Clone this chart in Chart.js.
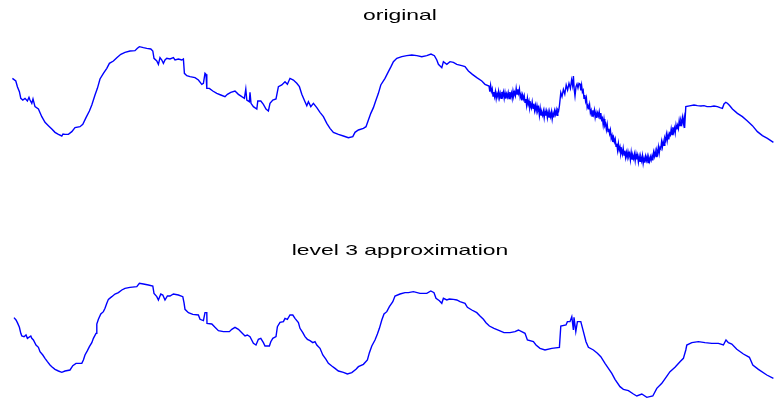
<!DOCTYPE html>
<html>
<head>
<meta charset="utf-8">
<script src="https://cdn.jsdelivr.net/npm/chart.js@4.4.1/dist/chart.umd.min.js"></script>
<style>
  html, body { margin: 0; padding: 0; background: #fff; overflow: hidden; }
  body { width: 774px; height: 399px; position: relative; }
  canvas { position: absolute; left: 0; }
  #origChart { top: 0; }
  #approxChart { top: 200px; }
</style>
</head>
<body>
<canvas id="origChart" width="774" height="200"></canvas>
<canvas id="approxChart" width="774" height="216"></canvas>
<script>
// signal: sample index + value
const origSample = [
  2, 19, 27, 37, 44, 54, 65, 77, 85, 90, 99, 105, 115, 132, 149, 165, 182, 199, 215, 232,
  249, 255, 265, 282, 299, 315, 340, 354, 370, 387, 399, 415, 427, 440, 457, 474, 487, 507, 524, 544,
  565, 590, 615, 627, 637, 657, 674, 694, 704, 710, 724, 732, 740, 749, 757, 765, 774, 790, 807, 815,
  832, 849, 857, 862, 874, 890, 915, 932, 949, 957, 965, 970, 974, 987, 1004, 1024, 1044, 1065, 1077, 1094,
  1115, 1132, 1149, 1162, 1169, 1174, 1187, 1190, 1195, 1207, 1224, 1229, 1244, 1257, 1270, 1282, 1290, 1304, 1320, 1332,
  1349, 1365, 1377, 1390, 1407, 1424, 1437, 1449, 1465, 1474, 1482, 1494, 1507, 1524, 1540, 1557, 1574, 1590, 1607, 1632,
  1657, 1682, 1704, 1715, 1732, 1757, 1770, 1782, 1794, 1807, 1817, 1832, 1844, 1865, 1882, 1895, 1907, 1924, 1949, 1974,
  1999, 2024, 2049, 2074, 2095, 2112, 2124, 2132, 2149, 2157, 2174, 2190, 2207, 2224, 2249, 2265, 2282, 2302, 2324, 2349,
  2365,
  // noisy stretch
  2385, 2389, 2393, 2397, 2401, 2405, 2409, 2413, 2417, 2421, 2425, 2429, 2433, 2437, 2441, 2445, 2449, 2453, 2457, 2461,
  2465, 2469, 2473, 2477, 2481, 2485, 2489, 2493, 2497, 2501, 2505, 2509, 2513, 2517, 2521, 2525, 2529, 2533, 2537, 2541,
  2545, 2549, 2553, 2557, 2561, 2565, 2569, 2573, 2577, 2581, 2585, 2589, 2593, 2597, 2601, 2605, 2609, 2613, 2617, 2621,
  2625, 2629, 2633, 2637, 2641, 2645, 2649, 2653, 2657, 2661, 2665, 2669, 2673, 2677, 2681, 2685, 2689, 2693, 2697, 2701,
  2705, 2709, 2713, 2717, 2721, 2725, 2729, 2733, 2737,
  2744, 2750, 2757, 2764, 2771, 2778, 2785, 2792, 2798, 2803, 2807, 2811, 2815, 2820, 2825, 2830, 2835,
  // noisy trough
  2840, 2844, 2848, 2852, 2856, 2860, 2864, 2868, 2872, 2876, 2880, 2884, 2888, 2892, 2896, 2900, 2904, 2908, 2912, 2916,
  2920, 2924, 2928, 2932, 2936, 2940, 2944, 2948, 2952, 2956, 2960, 2964, 2968, 2972, 2976, 2980, 2984, 2988, 2992, 2996,
  3000, 3004, 3008, 3012, 3016, 3020, 3024, 3028, 3032, 3036, 3040, 3044, 3048, 3052, 3056, 3060, 3064, 3068, 3072, 3076,
  3080, 3084, 3088, 3092, 3096, 3100, 3104, 3108, 3112, 3116, 3120, 3124, 3128, 3132, 3136, 3140, 3144, 3148, 3152, 3156,
  3160, 3164, 3168, 3172, 3176, 3180, 3184, 3188, 3192, 3196, 3200, 3204, 3208, 3212, 3216, 3220, 3224, 3228, 3232, 3236,
  3240, 3244, 3248, 3252, 3256, 3260, 3264, 3268, 3272, 3276, 3280, 3284, 3288, 3292, 3296, 3300, 3304, 3308, 3312, 3316,
  3320, 3324, 3328, 3332, 3336, 3340, 3344, 3348, 3352, 3356, 3360, 3363, 3369,
  3394, 3410, 3427, 3445, 3460, 3475, 3494, 3510, 3527, 3540, 3552, 3560, 3569, 3575, 3582, 3590, 3602, 3627, 3652, 3677,
  3702, 3727, 3752, 3777, 3807
];
const origValue = [
  305, 297, 280, 265, 245, 240, 245, 237, 248, 240, 230, 243, 220, 213, 190, 173, 163, 153, 143, 137,
  132, 138, 137, 137, 145, 157, 160, 167, 187, 207, 225, 255, 275, 303, 320, 335, 350, 357, 367, 377,
  383, 387, 388, 395, 400, 397, 395, 393, 387, 365, 357, 347, 367, 360, 350, 360, 365, 363, 367, 360,
  363, 360, 363, 320, 313, 310, 307, 300, 287, 290, 320, 317, 275, 275, 267, 260, 255, 250, 257, 263,
  267, 257, 250, 245, 273, 240, 235, 263, 230, 220, 213, 237, 237, 227, 213, 207, 230, 240, 243, 280,
  285, 295, 287, 305, 300, 290, 280, 257, 235, 223, 235, 220, 230, 217, 203, 190, 170, 155, 143, 137,
  132, 127, 130, 143, 150, 155, 160, 180, 200, 217, 235, 260, 285, 305, 325, 340, 355, 365, 370, 373,
  375, 373, 370, 373, 378, 373, 360, 347, 337, 355, 347, 355, 353, 347, 343, 340, 327, 317, 307, 297,
  287,
  282, 265, 284, 266, 274, 252, 264, 250, 265, 244, 259, 250, 266, 247, 260, 245, 264, 252, 264, 245,
  262, 244, 258, 249, 262, 244, 264, 250, 261, 245, 267, 253, 263, 253, 275, 258, 272, 260, 273, 248,
  257, 239, 255, 243, 253, 233, 243, 224, 245, 226, 237, 217, 228, 217, 234, 215, 229, 209, 224, 207,
  223, 208, 216, 194, 215, 195, 203, 194, 207, 187, 207, 193, 206, 187, 204, 189, 201, 190, 205, 183,
  200, 188, 208, 197, 210, 194, 211, 207, 222,
  262, 250, 272, 258, 285, 270, 290, 275, 300, 283, 312, 272, 252, 280, 288, 276, 290,
  288, 269, 285, 264, 269, 245, 255, 236, 246, 217, 224, 212, 226, 201, 209, 192, 209, 197, 210, 188,
  202, 186, 201, 192, 205, 184, 201, 181, 186, 165, 183, 163, 169, 151, 167, 145, 154, 139, 150, 125,
  134, 114, 127, 114, 123, 101, 109, 89, 109, 89, 99, 79, 90, 78, 95, 75, 88, 68, 83, 68,
  85, 71, 79, 60, 83, 63, 73, 64, 78, 58, 78, 62, 74, 54, 71, 56, 68, 57, 73, 50,
  65, 52, 71, 59, 71, 52, 66, 56, 70, 60, 72, 59, 83, 71, 86, 70, 88, 79, 99, 80,
  98, 94, 115, 99, 116, 104, 126, 119, 137, 118, 136, 122, 140, 135, 153, 136, 158, 144, 156, 141,
  165, 152, 164, 154, 178, 163, 179, 170, 188, 169, 185, 156, 220,
  223, 225, 223, 222, 223, 220, 220, 222, 220, 217, 215, 228, 233, 231, 227, 222, 213, 200, 190, 177,
  163, 145, 133, 125, 113
];

// level 3 approximation, same units
const approxSample = [
  10, 20, 27, 37, 44, 49, 60, 70, 77, 94, 99, 107, 120, 132, 140, 154, 165, 177, 190, 199,
  215, 232, 249, 265, 290, 304, 320, 349, 357, 365, 377, 387, 399, 407, 420, 424, 432, 444, 457, 465,
  474, 482, 499, 515, 532, 549, 565, 590, 624, 637, 657, 682, 704, 710, 724, 732, 744, 754, 765, 777,
  790, 807, 832, 854, 860, 865, 882, 904, 932, 940, 957, 965, 974, 975, 999, 1015, 1032, 1057, 1087, 1099,
  1115, 1132, 1149, 1165, 1177, 1190, 1207, 1220, 1232, 1244, 1257, 1265, 1287, 1294, 1304, 1320, 1327, 1340, 1357, 1365,
  1377, 1390, 1404, 1415, 1432, 1440, 1454, 1465, 1477, 1490, 1504, 1515, 1524, 1540, 1554, 1570, 1582, 1599, 1615, 1632,
  1657, 1677, 1699, 1720, 1732, 1757, 1777, 1787, 1799, 1815, 1827, 1837, 1849, 1860, 1874, 1887, 1904, 1915, 1940, 1965,
  1982, 2007, 2040, 2074, 2094, 2110, 2120, 2137, 2149, 2157, 2174, 2187, 2207, 2224, 2240, 2265, 2277, 2299, 2324, 2340,
  2357, 2370, 2387, 2410, 2437, 2460, 2490, 2515, 2532, 2565, 2577, 2607, 2620, 2640, 2665, 2699, 2737, 2744, 2770, 2777,
  2790, 2799, 2807, 2810, 2819, 2827, 2844, 2857, 2870, 2882, 2907, 2927, 2944, 2965, 2982, 2999, 3015, 3040, 3057, 3082,
  3107, 3124, 3149, 3174, 3204, 3224, 3249, 3270, 3290, 3315, 3340, 3357, 3369, 3374, 3399, 3432, 3465, 3499, 3532, 3557,
  3570, 3582, 3599, 3624, 3657, 3687, 3704, 3732, 3774, 3807
];
const approxValue = [
  295, 288, 280, 266, 248, 240, 238, 243, 233, 240, 233, 228, 213, 206, 193, 183, 173, 163, 153, 148,
  140, 135, 131, 135, 138, 151, 158, 158, 168, 183, 196, 208, 220, 233, 248, 276, 290, 306, 313, 323,
  338, 350, 358, 366, 370, 378, 383, 386, 388, 398, 396, 393, 390, 368, 358, 348, 366, 363, 348, 360,
  360, 366, 363, 358, 340, 320, 310, 305, 303, 290, 286, 310, 310, 278, 276, 266, 256, 253, 253, 260,
  266, 260, 250, 240, 243, 238, 218, 213, 230, 233, 220, 210, 210, 223, 233, 238, 268, 281, 283, 293,
  290, 303, 303, 293, 280, 263, 250, 238, 230, 226, 220, 223, 213, 203, 183, 170, 158, 150, 143, 135,
  131, 126, 130, 140, 148, 155, 168, 190, 210, 228, 246, 263, 288, 306, 313, 328, 343, 360, 366, 370,
  370, 373, 368, 368, 375, 370, 353, 346, 338, 353, 348, 351, 350, 348, 343, 338, 326, 318, 310, 300,
  290, 280, 270, 263, 256, 250, 250, 253, 258, 248, 228, 223, 213, 203, 198, 203, 206, 270, 273, 283,
  283, 298, 258, 296, 253, 283, 283, 253, 223, 206, 198, 188, 178, 158, 143, 128, 110, 88, 80, 76,
  66, 60, 66, 56, 60, 83, 98, 116, 133, 146, 163, 173, 198, 213, 220, 223, 220, 218, 218, 213,
  228, 220, 216, 200, 186, 176, 153, 140, 123, 113
];

const sampleRange = [0, 3810];
const valueRange = [0, 420];
const titles = ['original', 'level 3 approximation'];

// subplot title, stretched sideways like the exported figure
const wideTitle = {
  id: 'wideTitle',
  afterDraw(chart, args, opts) {
    const ctx = chart.ctx;
    ctx.save();
    ctx.font = '14.5px "Liberation Sans", Arial, sans-serif';
    ctx.fillStyle = '#000';
    ctx.textAlign = 'center';
    ctx.textBaseline = 'alphabetic';
    ctx.translate(opts.x, opts.y);
    ctx.scale(1.58, 1);
    ctx.fillText(opts.text, 0, 0);
    ctx.restore();
  }
};

function makePlot(id, samples, values, title, pad, titleY) {
  const pts = samples.map((s, i) => ({ x: s, y: values[i] }));
  return new Chart(document.getElementById(id), {
    type: 'line',
    data: {
      datasets: [{
        data: pts,
        borderColor: '#0000ff',
        borderWidth: 1.4,
        pointRadius: 0,
        tension: 0,
        fill: false,
        clip: false
      }]
    },
    options: {
      responsive: false,
      animation: false,
      events: [],
      layout: { autoPadding: false, padding: pad },
      scales: {
        x: { type: 'linear', min: sampleRange[0], max: sampleRange[1], display: false },
        y: { min: valueRange[0], max: valueRange[1], display: false }
      },
      plugins: {
        legend: { display: false },
        tooltip: { enabled: false },
        wideTitle: { text: title, x: 400, y: titleY }
      }
    },
    plugins: [wideTitle]
  });
}

makePlot('origChart', origSample, origValue, titles[0], { left: 12, right: 0, top: 40, bottom: 20 }, 20);
makePlot('approxChart', approxSample, approxValue, titles[1], { left: 12, right: 0, top: 76, bottom: 0 }, 55);
</script>
</body>
</html>
